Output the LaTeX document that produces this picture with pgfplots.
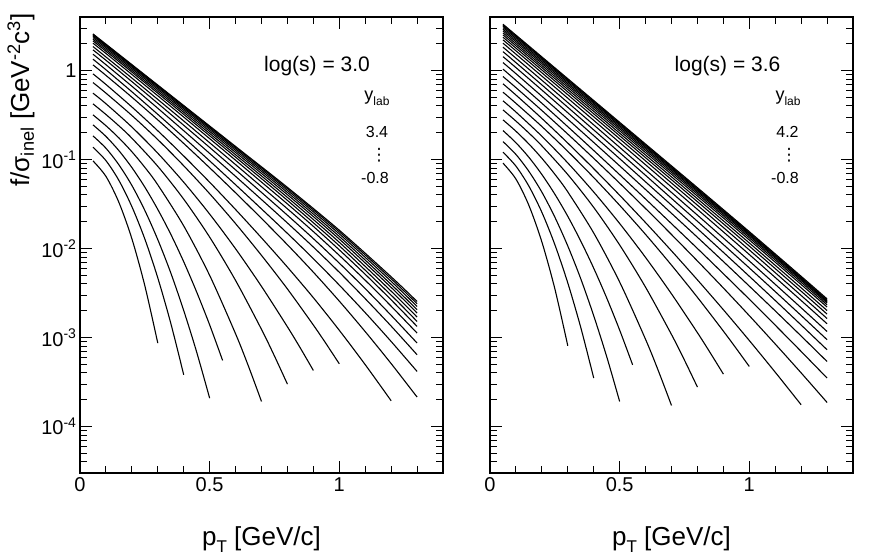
\documentclass[border=0pt]{standalone}
\usepackage{pgfplots}
\pgfplotsset{compat=1.18}
\usepackage{fontspec}
\setmainfont{Liberation Sans}
\newfontfamily\dejavu{DejaVu Sans}
\newcommand{\tl}{\fontsize{20bp}{22bp}\selectfont}
\newcommand{\al}{\fontsize{26bp}{28bp}\selectfont}
\newcommand{\sm}{\fontsize{16bp}{18bp}\selectfont}
\pgfplotsset{
  cv/.style={black, line width=1.1bp, smooth, mark=none},
}
\begin{document}
\begin{tikzpicture}[x=1bp,y=1bp]
\path[use as bounding box] (0,0) rectangle (872,557);
% ---------------- left panel ----------------
\begin{axis}[ymode=log, scale only axis, width=363bp, height=456bp, anchor=south west,
    at={(80bp,84bp)},
    xmin=0, xmax=1.4, ymin=3e-5, ymax=4,
    xtick={0,0.5,1}, xticklabels={0,0.5,1},
    minor xtick={0.1,0.2,0.3,0.4,0.6,0.7,0.8,0.9,1.1,1.2,1.3},
    ytick={1e-4,1e-3,1e-2,1e-1,1},
    minor ytick={4e-5,5e-5,6e-5,7e-5,8e-5,9e-5,2e-4,3e-4,4e-4,5e-4,6e-4,7e-4,8e-4,9e-4,2e-3,3e-3,4e-3,5e-3,6e-3,7e-3,8e-3,9e-3,2e-2,3e-2,4e-2,5e-2,6e-2,7e-2,8e-2,9e-2,0.2,0.3,0.4,0.5,0.6,0.7,0.8,0.9,2,3,4},
    major tick length=12bp, minor tick length=7bp,
    tick align=inside,
    axis line style={line width=1.4bp},
    every tick/.style={black, line width=1.0bp},
    tick label style={font=\tl},
    xticklabel style={yshift=-1bp},
  yticklabels={10\textsuperscript{-4},10\textsuperscript{-3},10\textsuperscript{-2},10\textsuperscript{-1},1}]
\addplot[cv] coordinates {(0.05,9.66e-2)(0.1,6.47e-2)(0.15,3.30e-2)(0.2,1.29e-2)(0.25,3.82e-3)(0.3,8.65e-4)};
\addplot[cv] coordinates {(0.05,0.1377)(0.1,9.73e-2)(0.15,5.83e-2)(0.2,2.96e-2)(0.25,1.28e-2)(0.3,4.68e-3)(0.35,1.449e-3)(0.4,3.81e-4)};
\addplot[cv] coordinates {(0.05,0.1845)(0.1,0.134)(0.15,8.73e-2)(0.2,5.12e-2)(0.25,2.68e-2)(0.3,1.259e-2)(0.35,5.33e-3)(0.4,2.01e-3)(0.45,6.85e-4)(0.5,2.08e-4)};
\addplot[cv] coordinates {(0.05,0.2455)(0.1,0.182)(0.15,0.1259)(0.2,8.13e-2)(0.25,4.90e-2)(0.3,2.75e-2)(0.35,1.449e-2)(0.4,7.10e-3)(0.45,3.24e-3)(0.5,1.387e-3)(0.55,5.52e-4)};
\addplot[cv] coordinates {(0.05,0.318)(0.1,0.240)(0.15,0.175)(0.2,0.1225)(0.25,8.18e-2)(0.3,5.20e-2)(0.4,1.795e-2)(0.5,4.99e-3)(0.6,1.10e-3)(0.65,4.73e-4)(0.7,1.91e-4)};
\addplot[cv] coordinates {(0.05,0.4227)(0.1,0.321)(0.15,0.2393)(0.2,0.1738)(0.3,8.39e-2)(0.4,3.585e-2)(0.5,1.343e-2)(0.6,4.375e-3)(0.7,1.233e-3)(0.75,6.19e-4)(0.8,2.99e-4)};
\addplot[cv] coordinates {(0.05,0.557)(0.1,0.424)(0.2,0.232)(0.3,0.1178)(0.4,5.56e-2)(0.5,2.438e-2)(0.6,9.93e-3)(0.7,3.75e-3)(0.8,1.318e-3)(0.85,7.59e-4)(0.9,4.26e-4)};
\addplot[cv] coordinates {(0.05,0.733)(0.1,0.558)(0.2,0.313)(0.3,0.1675)(0.4,8.51e-2)(0.5,4.13e-2)(0.6,1.905e-2)(0.7,8.37e-3)(0.8,3.51e-3)(0.9,1.380e-3)(0.95,8.43e-4)(1.0,5.06e-4)};
\addplot[cv] coordinates {(0.05,0.918)(0.1,0.698)(0.2,0.390)(0.3,0.2104)(0.4,0.1096)(0.5,5.56e-2)(0.6,2.742e-2)(0.7,1.318e-2)(0.8,6.18e-3)(0.9,2.80e-3)(1.0,1.205e-3)(1.1,4.95e-4)(1.2,1.945e-4)};
\addplot[cv] coordinates {(0.05,1.159)(0.1,0.883)(0.2,0.502)(0.3,0.279)(0.4,0.1517)(0.5,8.08e-2)(0.6,4.23e-2)(0.7,2.178e-2)(0.8,1.102e-2)(0.9,5.42e-3)(1.0,2.564e-3)(1.1,1.164e-3)(1.2,5.09e-4)(1.3,2.14e-4)};
\addplot[cv] coordinates {(0.05,1.343)(0.1,1.021)(0.2,0.578)(0.3,0.322)(0.4,0.1774)(0.5,9.66e-2)(0.6,5.21e-2)(0.7,2.786e-2)(0.8,1.479e-2)(0.9,7.69e-3)(1.0,3.88e-3)(1.1,1.901e-3)(1.2,9.02e-4)(1.3,4.155e-4)};
\addplot[cv] coordinates {(0.05,1.528)(0.1,1.164)(0.2,0.667)(0.3,0.377)(0.4,0.211)(0.5,0.1172)(0.6,6.47e-2)(0.7,3.55e-2)(0.8,1.936e-2)(0.9,1.038e-2)(1.0,5.41e-3)(1.1,2.73e-3)(1.2,1.343e-3)(1.3,6.40e-4)};
\addplot[cv] coordinates {(0.05,1.710)(0.1,1.306)(0.2,0.752)(0.3,0.4285)(0.4,0.2427)(0.5,0.1368)(0.6,7.66e-2)(0.7,4.27e-2)(0.8,2.366e-2)(0.9,1.291e-2)(1.0,6.85e-3)(1.1,3.54e-3)(1.2,1.774e-3)(1.3,8.66e-4)};
\addplot[cv] coordinates {(0.05,1.862)(0.1,1.422)(0.2,0.824)(0.3,0.474)(0.4,0.2713)(0.5,0.1545)(0.6,8.77e-2)(0.7,4.95e-2)(0.8,2.793e-2)(0.9,1.549e-2)(1.0,8.37e-3)(1.1,4.40e-3)(1.2,2.249e-3)(1.3,1.121e-3)};
\addplot[cv] coordinates {(0.05,2.032)(0.1,1.556)(0.2,0.904)(0.3,0.521)(0.4,0.300)(0.5,0.1718)(0.6,9.82e-2)(0.7,5.58e-2)(0.8,3.17e-2)(0.9,1.774e-2)(1.0,9.66e-3)(1.1,5.13e-3)(1.2,2.649e-3)(1.3,1.332e-3)};
\addplot[cv] coordinates {(0.05,2.158)(0.2,0.962)(0.4,0.3217)(0.6,0.1063)(0.8,3.475e-2)(1.0,1.074e-2)(1.2,2.988e-3)(1.3,1.515e-3)};
\addplot[cv] coordinates {(0.05,2.254)(0.2,1.007)(0.4,0.3395)(0.6,0.1133)(0.8,3.752e-2)(1.0,1.175e-2)(1.2,3.318e-3)(1.3,1.696e-3)};
\addplot[cv] coordinates {(0.05,2.350)(0.2,1.053)(0.4,0.3571)(0.6,0.1202)(0.8,4.024e-2)(1.0,1.276e-2)(1.2,3.653e-3)(1.3,1.882e-3)};
\addplot[cv] coordinates {(0.05,2.438)(0.2,1.094)(0.4,0.3732)(0.6,0.1265)(0.8,4.269e-2)(1.0,1.367e-2)(1.2,3.956e-3)(1.3,2.048e-3)};
\addplot[cv] coordinates {(0.05,2.500)(0.2,1.125)(0.4,0.3862)(0.6,0.1320)(0.8,4.502e-2)(1.0,1.459e-2)(1.2,4.277e-3)(1.3,2.231e-3)};
\addplot[cv] coordinates {(0.05,2.553)(0.2,1.151)(0.4,0.3972)(0.6,0.1368)(0.8,4.706e-2)(1.0,1.540e-2)(1.2,4.567e-3)(1.3,2.396e-3)};
\addplot[cv] coordinates {(0.05,2.582)(0.2,1.167)(0.4,0.4046)(0.6,0.1403)(0.8,4.864e-2)(1.0,1.606e-2)(1.2,4.810e-3)(1.3,2.539e-3)};
\end{axis}
% ---------------- right panel ----------------
\begin{axis}[ymode=log, scale only axis, width=363bp, height=456bp, anchor=south west,
    at={(490bp,84bp)},
    xmin=0, xmax=1.4, ymin=3e-5, ymax=4,
    xtick={0,0.5,1}, xticklabels={0,0.5,1},
    minor xtick={0.1,0.2,0.3,0.4,0.6,0.7,0.8,0.9,1.1,1.2,1.3},
    ytick={1e-4,1e-3,1e-2,1e-1,1},
    minor ytick={4e-5,5e-5,6e-5,7e-5,8e-5,9e-5,2e-4,3e-4,4e-4,5e-4,6e-4,7e-4,8e-4,9e-4,2e-3,3e-3,4e-3,5e-3,6e-3,7e-3,8e-3,9e-3,2e-2,3e-2,4e-2,5e-2,6e-2,7e-2,8e-2,9e-2,0.2,0.3,0.4,0.5,0.6,0.7,0.8,0.9,2,3,4},
    major tick length=12bp, minor tick length=7bp,
    tick align=inside,
    axis line style={line width=1.4bp},
    every tick/.style={black, line width=1.0bp},
    tick label style={font=\tl},
    xticklabel style={yshift=-1bp},
    yticklabels={}]
\addplot[cv] coordinates {(0.05,9.12e-2)(0.1,6.03e-2)(0.15,3.05e-2)(0.2,1.186e-2)(0.25,3.53e-3)(0.3,8.07e-4)};
\addplot[cv] coordinates {(0.05,0.1211)(0.1,8.43e-2)(0.15,5.02e-2)(0.2,2.553e-2)(0.25,1.107e-2)(0.3,4.10e-3)(0.35,1.297e-3)(0.4,3.50e-4)};
\addplot[cv] coordinates {(0.05,0.1592)(0.1,0.1140)(0.15,7.36e-2)(0.2,4.30e-2)(0.25,2.254e-2)(0.3,1.067e-2)(0.35,4.57e-3)(0.4,1.754e-3)(0.45,6.10e-4)(0.5,1.91e-4)};
\addplot[cv] coordinates {(0.05,0.2118)(0.1,0.1545)(0.15,0.1059)(0.2,6.79e-2)(0.25,4.08e-2)(0.3,2.299e-2)(0.35,1.213e-2)(0.4,6.005e-3)(0.45,2.786e-3)(0.5,1.211e-3)(0.55,4.93e-4)};
\addplot[cv] coordinates {(0.05,0.2793)(0.1,0.208)(0.15,0.1496)(0.2,0.1033)(0.25,6.84e-2)(0.3,4.325e-2)(0.4,1.493e-2)(0.5,4.20e-3)(0.6,9.52e-4)(0.65,4.17e-4)(0.7,1.722e-4)};
\addplot[cv] coordinates {(0.05,0.3614)(0.1,0.2704)(0.15,0.1986)(0.2,0.1424)(0.3,6.78e-2)(0.4,2.897e-2)(0.5,1.096e-2)(0.6,3.67e-3)(0.7,1.079e-3)(0.75,5.56e-4)(0.8,2.77e-4)};
\addplot[cv] coordinates {(0.05,0.4571)(0.1,0.342)(0.2,0.1828)(0.3,9.16e-2)(0.4,4.315e-2)(0.5,1.910e-2)(0.6,7.93e-3)(0.7,3.09e-3)(0.8,1.132e-3)(0.85,6.68e-4)(0.9,3.88e-4)};
\addplot[cv] coordinates {(0.05,0.5715)(0.1,0.4285)(0.2,0.2350)(0.3,0.1236)(0.4,6.27e-2)(0.5,3.06e-2)(0.6,1.439e-2)(0.7,6.50e-3)(0.8,2.825e-3)(0.9,1.180e-3)(0.95,7.50e-4)(1.0,4.72e-4)};
\addplot[cv] coordinates {(0.05,0.710)(0.1,0.531)(0.2,0.2897)(0.3,0.1531)(0.4,7.89e-2)(0.5,3.97e-2)(0.6,1.954e-2)(0.7,9.41e-3)(0.8,4.44e-3)(0.9,2.051e-3)(1.0,9.25e-4)(1.1,4.07e-4)(1.2,1.754e-4)};
\addplot[cv] coordinates {(0.05,0.857)(0.1,0.643)(0.2,0.3556)(0.3,0.1932)(0.4,0.1031)(0.5,5.42e-2)(0.6,2.812e-2)(0.7,1.436e-2)(0.8,7.24e-3)(0.9,3.60e-3)(1.0,1.760e-3)(1.1,8.45e-4)(1.2,4.00e-4)(1.3,1.862e-4)};
\addplot[cv] coordinates {(0.05,1.038)(0.1,0.776)(0.2,0.4290)(0.3,0.2339)(0.4,0.1264)(0.5,6.76e-2)(0.6,3.60e-2)(0.7,1.901e-2)(0.8,1.0e-2)(0.9,5.21e-3)(1.0,2.692e-3)(1.1,1.375e-3)(1.2,6.97e-4)(1.3,3.50e-4)};
\addplot[cv] coordinates {(0.05,1.230)(0.1,0.923)(0.2,0.514)(0.3,0.2838)(0.4,0.1556)(0.5,8.49e-2)(0.6,4.60e-2)(0.7,2.485e-2)(0.8,1.337e-2)(0.9,7.14e-3)(1.0,3.78e-3)(1.1,1.991e-3)(1.2,1.038e-3)(1.3,5.37e-4)};
\addplot[cv] coordinates {(0.05,1.435)(0.1,1.079)(0.2,0.604)(0.3,0.3357)(0.4,0.1857)(0.5,0.1023)(0.6,5.61e-2)(0.7,3.07e-2)(0.8,1.671e-2)(0.9,9.06e-3)(1.0,4.875e-3)(1.1,2.606e-3)(1.2,1.381e-3)(1.3,7.28e-4)};
\addplot[cv] coordinates {(0.05,1.633)(0.1,1.228)(0.2,0.690)(0.3,0.3864)(0.4,0.2153)(0.5,0.1197)(0.6,6.64e-2)(0.7,3.66e-2)(0.8,2.02e-2)(0.9,1.109e-2)(1.0,6.05e-3)(1.1,3.28e-3)(1.2,1.766e-3)(1.3,9.44e-4)};
\addplot[cv] coordinates {(0.05,1.832)(0.2,0.778)(0.4,0.2452)(0.6,7.65e-2)(0.8,2.372e-2)(1.0,7.24e-3)(1.2,2.157e-3)(1.3,1.167e-3)};
\addplot[cv] coordinates {(0.05,2.032)(0.2,0.866)(0.4,0.2757)(0.6,8.73e-2)(0.8,2.753e-2)(1.0,8.56e-3)(1.2,2.604e-3)(1.3,1.426e-3)};
\addplot[cv] coordinates {(0.05,2.213)(0.2,0.945)(0.4,0.3026)(0.6,9.65e-2)(0.8,3.068e-2)(1.0,9.64e-3)(1.2,2.966e-3)(1.3,1.633e-3)};
\addplot[cv] coordinates {(0.05,2.371)(0.2,1.015)(0.4,0.3266)(0.6,0.1048)(0.8,3.359e-2)(1.0,1.065e-2)(1.2,3.311e-3)(1.3,1.832e-3)};
\addplot[cv] coordinates {(0.05,2.518)(0.2,1.079)(0.4,0.3482)(0.6,0.1123)(0.8,3.620e-2)(1.0,1.155e-2)(1.2,3.616e-3)(1.3,2.009e-3)};
\addplot[cv] coordinates {(0.05,2.655)(0.2,1.139)(0.4,0.3693)(0.6,0.1197)(0.8,3.882e-2)(1.0,1.248e-2)(1.2,3.939e-3)(1.3,2.198e-3)};
\addplot[cv] coordinates {(0.05,2.793)(0.2,1.199)(0.4,0.3889)(0.6,0.1262)(0.8,4.098e-2)(1.0,1.319e-2)(1.2,4.169e-3)(1.3,2.328e-3)};
\addplot[cv] coordinates {(0.05,2.917)(0.2,1.253)(0.4,0.4064)(0.6,0.1319)(0.8,4.284e-2)(1.0,1.380e-2)(1.2,4.364e-3)(1.3,2.438e-3)};
\addplot[cv] coordinates {(0.05,3.041)(0.2,1.305)(0.4,0.4230)(0.6,0.1371)(0.8,4.447e-2)(1.0,1.429e-2)(1.2,4.512e-3)(1.3,2.518e-3)};
\addplot[cv] coordinates {(0.05,3.155)(0.2,1.354)(0.4,0.4380)(0.6,0.1417)(0.8,4.586e-2)(1.0,1.472e-2)(1.2,4.634e-3)(1.3,2.582e-3)};
\addplot[cv] coordinates {(0.05,3.236)(0.2,1.388)(0.4,0.4487)(0.6,0.1452)(0.8,4.692e-2)(1.0,1.504e-2)(1.2,4.733e-3)(1.3,2.630e-3)};
\addplot[cv] coordinates {(0.05,3.319)(0.2,1.424)(0.4,0.4607)(0.6,0.1491)(0.8,4.825e-2)(1.0,1.547e-2)(1.2,4.870e-3)(1.3,2.714e-3)};
\end{axis}
% ---------------- labels ----------------
\node[rotate=90, anchor=east, inner sep=0pt] at (21,544) {\al f/σ\textsubscript{inel} [GeV\textsuperscript{-2}c\textsuperscript{3}]};
\node[anchor=base, inner sep=0pt] at (261.5,11) {\al p\raisebox{-0.45ex}{\fontsize{17bp}{17bp}\selectfont T} [GeV/c]};
\node[anchor=base, inner sep=0pt] at (671.5,11) {\al p\raisebox{-0.45ex}{\fontsize{17bp}{17bp}\selectfont T} [GeV/c]};
\node[inner sep=0pt] at (317,491) {\fontsize{21bp}{23bp}\selectfont log(s) = 3.0};
\node[inner sep=0pt] at (727.5,491) {\fontsize{21bp}{23bp}\selectfont log(s) = 3.6};
\node[inner sep=0pt] at (377,459) {\fontsize{18bp}{20bp}\selectfont y\raisebox{-0.5ex}{\fontsize{12bp}{12bp}\selectfont lab}};
\node[inner sep=0pt] at (788,459) {\fontsize{18bp}{20bp}\selectfont y\raisebox{-0.5ex}{\fontsize{12bp}{12bp}\selectfont lab}};
\node[anchor=base, inner sep=0pt] at (377,419.3) {\sm 3.4};
\node[anchor=base, inner sep=0pt] at (787.5,419.3) {\sm 4.2};
\node[inner sep=0pt] at (379,402) {\fontsize{17bp}{17bp}\dejavu ⋮};
\node[inner sep=0pt] at (789,402) {\fontsize{17bp}{17bp}\dejavu ⋮};
\node[anchor=base, inner sep=0pt] at (375,373.3) {\sm -0.8};
\node[anchor=base, inner sep=0pt] at (785,373.3) {\sm -0.8};
\end{tikzpicture}
\end{document}
